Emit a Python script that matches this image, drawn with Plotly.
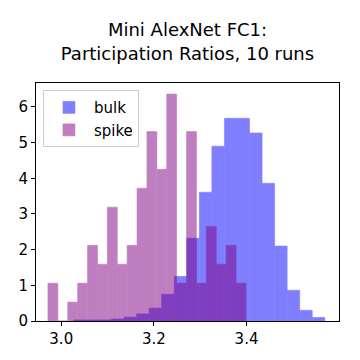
import numpy as np
import plotly.graph_objects as go

# histogram densities (20 bins each)
bulk_start = 3.0273
bulk_width = 0.02708
bulk_density = [0.03, 0.03, 0.03, 0.056, 0.11, 0.20, 0.36, 0.75, 1.25, 2.32,
                3.61, 4.90, 5.68, 5.68, 5.27, 3.86, 2.10, 0.86, 0.30, 0.10]

spike_start = 2.9713
spike_width = 0.02137
spike_density = [1.06, 0.0, 0.53, 1.06, 2.12, 1.59, 3.19, 1.59, 2.12, 3.72,
                 5.31, 4.25, 6.36, 1.06, 5.31, 1.06, 2.65, 1.59, 2.12, 1.06]

x_ticks = [3.0, 3.2, 3.4]
y_ticks = [0, 1, 2, 3, 4, 5, 6]


def centers(start, width, n):
    return start + width * (np.arange(n) + 0.5)


fig = go.Figure()
fig.add_trace(
    go.Bar(
        x=centers(bulk_start, bulk_width, len(bulk_density)),
        y=bulk_density,
        width=bulk_width,
        name="bulk",
        # outline in the same colour hides the seams between adjacent bars
        marker=dict(color="#0000ff", line=dict(color="#0000ff", width=0.6)),
        opacity=0.5,
    )
)
fig.add_trace(
    go.Bar(
        x=centers(spike_start, spike_width, len(spike_density)),
        y=spike_density,
        width=spike_width,
        name="spike",
        marker=dict(color="#800080", line=dict(color="#800080", width=0.6)),
        opacity=0.5,
    )
)

axis_style = dict(
    showline=True,
    linecolor="black",
    linewidth=1,
    mirror=True,
    ticks="outside",
    ticklen=4,
    tickcolor="black",
    showgrid=False,
    zeroline=False,
    automargin=False,
    tickfont=dict(size=15, color="black"),
)

# the page body adds an 8px margin, so the figure is 352px square
fig.update_layout(
    width=352,
    height=352,
    barmode="overlay",
    template="plotly_white",
    paper_bgcolor="white",
    plot_bgcolor="white",
    font=dict(family="DejaVu Sans, sans-serif", color="black"),
    title=dict(
        text="Mini AlexNet FC1:<br>Participation Ratios, 10 runs",
        x=0.5,
        xref="paper",
        y=0.92,
        yref="container",
        yanchor="middle",
        automargin=False,
        font=dict(size=18, color="black"),
    ),
    showlegend=True,
    legend=dict(
        x=0.023,
        y=0.97,
        xanchor="left",
        yanchor="top",
        bgcolor="rgba(255,255,255,0.8)",
        bordercolor="#cccccc",
        borderwidth=1,
        font=dict(size=15),
        itemwidth=40,
    ),
    margin=dict(l=28, r=21, t=75, b=39, autoexpand=False),
    xaxis=dict(range=[2.9455, 3.5996], tickvals=x_ticks, tickformat=".1f", **axis_style),
    yaxis=dict(range=[0, 6.67], tickvals=y_ticks, **axis_style),
)

fig.write_html("out.html")
